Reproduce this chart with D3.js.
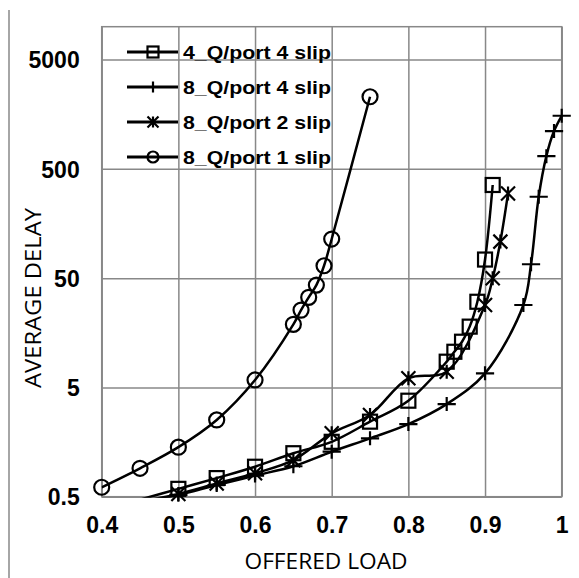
<!DOCTYPE html>
<html>
<head>
<meta charset="utf-8">
<script src="https://cdn.jsdelivr.net/npm/d3@7"></script>
<style>
  body { margin: 0; background: #fff; }
  svg { display: block; }
</style>
</head>
<body>
<svg id="chart" width="579" height="578"></svg>
<script>
// ---- data ----
var xTicks = [0.4, 0.5, 0.6, 0.7, 0.8, 0.9, 1];
var yTicks = [0.5, 5, 50, 500, 5000];

var load4q4 = [0.45, 0.5, 0.55, 0.6, 0.65, 0.7, 0.75, 0.8, 0.85, 0.86, 0.87, 0.88, 0.89, 0.9, 0.91];
var delay4q4 = [0.47, 0.59, 0.74, 0.94, 1.25, 1.59, 2.43, 3.78, 8.6, 10.6, 13.1, 18, 30.4, 74, 356];

var load8q4 = [0.45, 0.5, 0.55, 0.6, 0.65, 0.7, 0.75, 0.8, 0.85, 0.9, 0.95, 0.96, 0.97, 0.98, 0.99, 1.0];
var delay8q4 = [0.44, 0.52, 0.64, 0.78, 0.95, 1.29, 1.71, 2.31, 3.52, 6.73, 28.4, 67, 278, 654, 1109, 1531];

var load8q2 = [0.45, 0.5, 0.55, 0.6, 0.65, 0.7, 0.75, 0.8, 0.85, 0.9, 0.91, 0.92, 0.93];
var delay8q2 = [0.45, 0.53, 0.66, 0.82, 1.08, 1.9, 2.8, 6.06, 6.96, 28.4, 49.8, 108, 298];

var load8q1 = [0.4, 0.45, 0.5, 0.55, 0.6, 0.65, 0.66, 0.67, 0.68, 0.69, 0.7, 0.75];
var delay8q1 = [0.61, 0.91, 1.42, 2.52, 5.85, 18.9, 25.5, 33.4, 43.2, 64.9, 114, 2286];

var seriesNames = ["4_Q/port 4 slip", "8_Q/port 4 slip", "8_Q/port 2 slip", "8_Q/port 1 slip"];
var seriesMarkers = ["square", "plus", "star", "circle"];

var series = [
  { name: seriesNames[0], marker: seriesMarkers[0], x: load4q4, y: delay4q4 },
  { name: seriesNames[1], marker: seriesMarkers[1], x: load8q4, y: delay8q4 },
  { name: seriesNames[2], marker: seriesMarkers[2], x: load8q2, y: delay8q2 },
  { name: seriesNames[3], marker: seriesMarkers[3], x: load8q1, y: delay8q1 }
];

// plot area
var plotLeft = 101.7, plotRight = 561.7, plotTop = 26.7, plotBottom = 496.7;
var gridColor = "#888";

var svg = d3.select("#chart");

var x = d3.scaleLinear().domain([0.4, 1]).range([plotLeft, plotRight]);
var y = d3.scaleLog().domain([0.5, 10000]).range([plotBottom, plotTop]);

// outer page border line on the left
svg.append("line")
  .attr("x1", 9).attr("x2", 9)
  .attr("y1", 10).attr("y2", 578)
  .attr("stroke", gridColor).attr("stroke-width", 1.5);

// ---- gridlines + tick labels ----
var xAxis = svg.append("g")
  .attr("transform", "translate(0," + plotBottom + ")")
  .call(d3.axisBottom(x).tickValues(xTicks)
    .tickSize(-(plotBottom - plotTop)).tickPadding(20)
    .tickFormat(function(d) { return d === 1 ? "1" : d3.format(".1f")(d); }));

var yAxis = svg.append("g")
  .attr("transform", "translate(" + plotLeft + ",0)")
  .call(d3.axisLeft(y).tickValues(yTicks)
    .tickSize(-(plotRight - plotLeft)).tickPadding(22)
    .tickFormat(function(d) { return String(d); }));

[xAxis, yAxis].forEach(function(ax) {
  ax.select(".domain").remove();
  ax.selectAll(".tick line")
    .attr("stroke", gridColor).attr("stroke-width", 1.5);
  ax.selectAll(".tick text")
    .attr("fill", "#000")
    .style("font-family", "'Liberation Sans', Arial, sans-serif")
    .style("font-size", "23px")
    .style("font-weight", "bold");
});
xAxis.selectAll(".tick text").attr("dy", "0.71em").attr("y", 20);
yAxis.selectAll(".tick text").attr("dy", "0.36em");

// plot border
svg.append("rect")
  .attr("x", plotLeft).attr("y", plotTop)
  .attr("width", plotRight - plotLeft).attr("height", plotBottom - plotTop)
  .attr("fill", "none")
  .attr("stroke", gridColor).attr("stroke-width", 1.5);

// axis titles
svg.append("text")
  .attr("x", 326).attr("y", 569)
  .attr("text-anchor", "middle")
  .attr("textLength", 163).attr("lengthAdjust", "spacingAndGlyphs")
  .style("font-family", "'Open Sans', sans-serif")
  .style("font-size", "21px")
  .text("OFFERED LOAD");

svg.append("text")
  .attr("transform", "translate(41,298) rotate(-90)")
  .attr("text-anchor", "middle")
  .attr("textLength", 180).attr("lengthAdjust", "spacingAndGlyphs")
  .style("font-family", "'Open Sans', sans-serif")
  .style("font-size", "21px")
  .text("AVERAGE DELAY");

// ---- series ----
svg.append("clipPath").attr("id", "plotClip")
  .append("rect")
  .attr("x", plotLeft).attr("y", plotTop - 2)
  .attr("width", plotRight - plotLeft + 2).attr("height", plotBottom - plotTop + 3);

var line = d3.line()
  .x(function(d) { return x(d[0]); })
  .y(function(d) { return y(d[1]); })
  .curve(d3.curveCatmullRom);

// draws one marker shape centred at 0,0
function drawMarker(g, type, s) {
  if(type === "square") {
    g.append("rect")
      .attr("x", -s / 2).attr("y", -s / 2)
      .attr("width", s).attr("height", s)
      .attr("fill", "none");
  } else if(type === "circle") {
    g.append("circle").attr("r", s / 2).attr("fill", "none");
  } else if(type === "plus") {
    g.append("path")
      .attr("d", "M" + (-s * 0.65) + ",0H" + (s * 0.65) + "M0," + (-s / 2) + "V" + (s / 2));
  } else if(type === "star") {
    var h = s / 2;
    g.append("path")
      .attr("d", "M" + (-h) + "," + (-h) + "L" + h + "," + h +
        "M" + (-h) + "," + h + "L" + h + "," + (-h) +
        "M0," + (-h) + "V" + h);
  }
}

var plot = svg.append("g");

series.forEach(function(s) {
  var pts = s.x.map(function(v, i) { return [v, s.y[i]]; });

  plot.append("path")
    .attr("clip-path", "url(#plotClip)")
    .attr("d", line(pts))
    .attr("fill", "none")
    .attr("stroke", "#000")
    .attr("stroke-width", 2.5);

  // markers only for points inside the axis range
  pts.filter(function(p) { return p[1] >= 0.5; }).forEach(function(p) {
    var g = plot.append("g")
      .attr("transform", "translate(" + x(p[0]) + "," + y(p[1]) + ")")
      .attr("stroke", "#000").attr("stroke-width", 2.2);
    drawMarker(g, s.marker, s.marker === "circle" ? 15 : 14);
  });
});

// ---- legend ----
var legend = svg.append("g");
var rowY = [52, 87, 122, 157];

series.forEach(function(s, i) {
  var row = legend.append("g").attr("transform", "translate(0," + rowY[i] + ")");
  row.append("line")
    .attr("x1", 127).attr("x2", 178)
    .attr("stroke", "#000").attr("stroke-width", 3);
  var m = row.append("g")
    .attr("transform", "translate(153,0)")
    .attr("stroke", "#000").attr("stroke-width", 2.2);
  drawMarker(m, s.marker, 11);
  row.append("text")
    .attr("x", 183).attr("dy", "0.36em")
    .attr("textLength", 148).attr("lengthAdjust", "spacingAndGlyphs")
    .style("font-family", "'Liberation Sans', Arial, sans-serif")
    .style("font-size", "19px")
    .style("font-weight", "bold")
    .text(s.name);
});
</script>
</body>
</html>
